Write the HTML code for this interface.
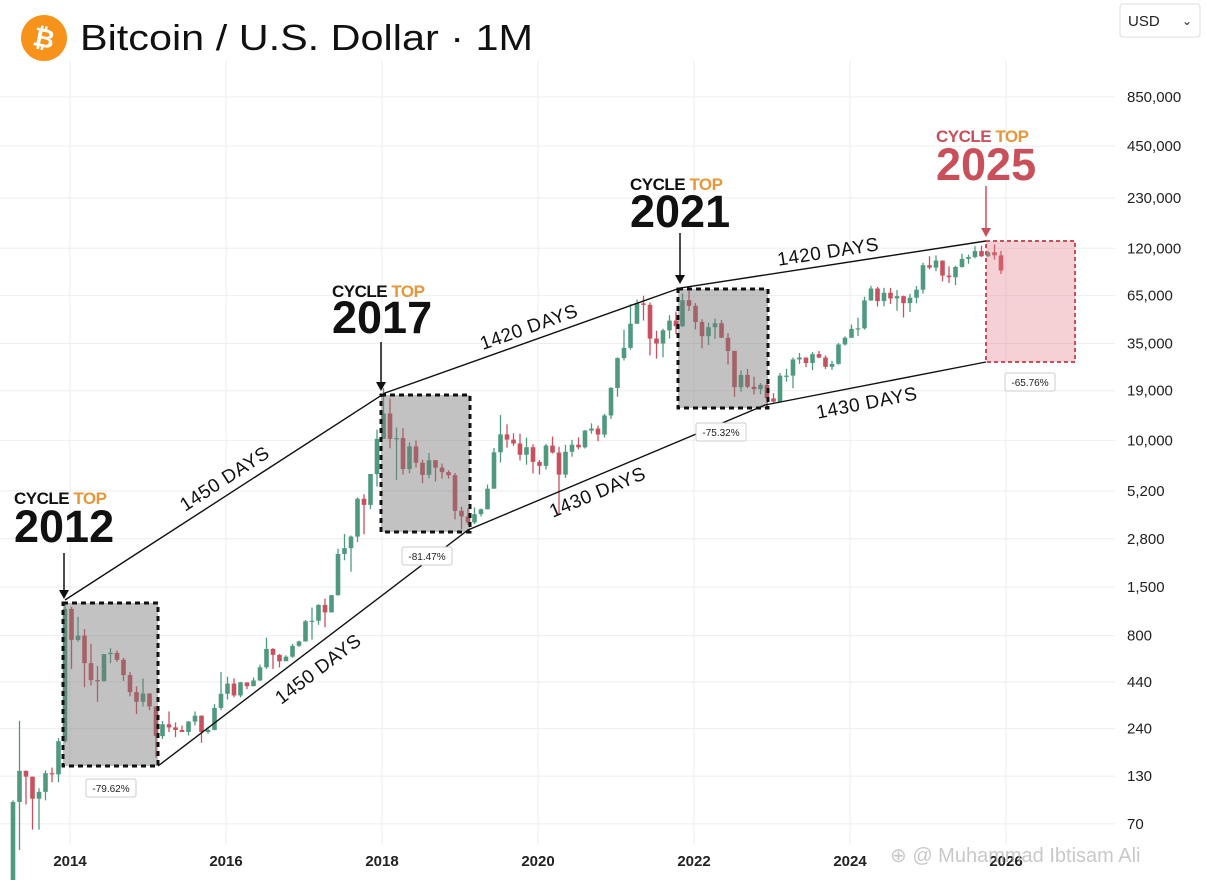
<!DOCTYPE html>
<html><head><meta charset="utf-8"><style>
html,body{margin:0;padding:0;background:#fff;width:1206px;height:880px;overflow:hidden;font-family:"Liberation Sans",sans-serif}
svg{display:block}
</style></head><body>
<svg id="chart" width="1206" height="880" viewBox="0 0 1206 880" xmlns="http://www.w3.org/2000/svg" font-family="Liberation Sans, sans-serif">
<g id="grid"></g>
<g id="candles"></g>
<g id="annot">
  <rect x="63" y="603" width="95" height="163" fill="rgba(120,120,120,0.45)" stroke="#111" stroke-width="3" stroke-dasharray="5,4"/>
  <rect x="381" y="395" width="89" height="137" fill="rgba(120,120,120,0.45)" stroke="#111" stroke-width="3" stroke-dasharray="5,4"/>
  <rect x="678" y="289" width="90" height="119" fill="rgba(120,120,120,0.45)" stroke="#111" stroke-width="3" stroke-dasharray="5,4"/>
  <rect x="986" y="241" width="89" height="121" fill="rgba(225,120,135,0.35)" stroke="#c9505a" stroke-width="2" stroke-dasharray="4,3"/>
  <polyline points="65,600 385,393 680,288 986,241" fill="none" stroke="#111" stroke-width="1.4"/>
  <polyline points="158,766 468,530 765,405 986,362" fill="none" stroke="#111" stroke-width="1.4"/>
  <g font-size="19" fill="#111" text-anchor="middle" letter-spacing="0.5">
    <text transform="translate(228,484) rotate(-33)">1450 DAYS</text>
    <text transform="translate(531,333) rotate(-19.6)">1420 DAYS</text>
    <text transform="translate(829,258) rotate(-8.8)">1420 DAYS</text>
    <text transform="translate(322,674) rotate(-37.3)">1450 DAYS</text>
    <text transform="translate(600,498) rotate(-22.8)">1430 DAYS</text>
    <text transform="translate(868,409) rotate(-11)">1430 DAYS</text>
  </g>
  <g font-size="10" fill="#222" text-anchor="middle">
    <g><rect x="86" y="779" width="50" height="18" rx="2" fill="#fff" stroke="#ccc"/><text x="111" y="792">-79.62%</text></g>
    <g><rect x="402" y="547" width="50" height="18" rx="2" fill="#fff" stroke="#ccc"/><text x="427" y="560">-81.47%</text></g>
    <g><rect x="696" y="423" width="50" height="18" rx="2" fill="#fff" stroke="#ccc"/><text x="721" y="436">-75.32%</text></g>
    <g><rect x="1005" y="373" width="50" height="18" rx="2" fill="#fff" stroke="#ccc"/><text x="1030" y="386">-65.76%</text></g>
  </g>
  <g font-weight="bold">
    <g>
      <text x="14" y="504" font-size="17" letter-spacing="-0.5" fill="#111">CYCLE <tspan fill="#e8963a">TOP</tspan></text>
      <text x="14" y="542" font-size="45" fill="#111">2012</text>
      <line x1="64" y1="553" x2="64" y2="592" stroke="#111" stroke-width="1.5"/><polygon points="59,590 69,590 64,599" fill="#111"/>
    </g>
    <g>
      <text x="332" y="297" font-size="17" letter-spacing="-0.5" fill="#111">CYCLE <tspan fill="#e8963a">TOP</tspan></text>
      <text x="332" y="333" font-size="45" fill="#111">2017</text>
      <line x1="381" y1="342" x2="381" y2="384" stroke="#111" stroke-width="1.5"/><polygon points="376,382 386,382 381,391" fill="#111"/>
    </g>
    <g>
      <text x="630" y="190" font-size="17" letter-spacing="-0.5" fill="#111">CYCLE <tspan fill="#e8963a">TOP</tspan></text>
      <text x="630" y="227" font-size="45" fill="#111">2021</text>
      <line x1="680" y1="233" x2="680" y2="277" stroke="#111" stroke-width="1.5"/><polygon points="675,275 685,275 680,284" fill="#111"/>
    </g>
    <g>
      <text x="936" y="142" font-size="17" letter-spacing="-0.5" fill="#c9505a">CYCLE <tspan fill="#e8963a">TOP</tspan></text>
      <text x="936" y="180" font-size="45" fill="#c9505a">2025</text>
      <line x1="986" y1="186" x2="986" y2="230" stroke="#c9505a" stroke-width="1.5"/><polygon points="981,228 991,228 986,237" fill="#c9505a"/>
    </g>
  </g>
</g>
<g id="yaxis" font-size="15" fill="#222"></g>
<g id="xaxis" font-size="15" fill="#222" font-weight="bold" text-anchor="middle"></g>
<g>
  <circle cx="44" cy="38" r="23" fill="#f7931a"/>
  <text x="44" y="47" font-size="26" font-weight="bold" fill="#fff" text-anchor="middle" transform="rotate(12,44,38)">₿</text>
  <text x="80" y="50" font-size="36" fill="#111" textLength="453" lengthAdjust="spacingAndGlyphs">Bitcoin / U.S. Dollar · 1M</text>
</g>
<g>
  <rect x="1120" y="4" width="80" height="33" rx="3" fill="#fff" stroke="#ddd"/>
  <text x="1128" y="26" font-size="15" fill="#222">USD</text>
  <text x="1182" y="25" font-size="12" fill="#222">⌄</text>
</g>
<text x="890" y="862" font-size="20" fill="#bbb" opacity="0.8">⊕ @ Muhammad Ibtisam Ali</text>
</svg>
<script>
const yTicks = [850000,450000,230000,120000,65000,35000,19000,10000,5200,2800,1500,800,440,240,130,70];
const xYears = [2014,2016,2018,2020,2022,2024,2026];
const startMonth = 2; // March 2013 (months since Jan 2013)
const firstOpen = 33;
const closes = [93,139,129,97,106,135,133,204,1130,757,
800,560,450,445,630,640,585,480,385,340,378,320,
218,254,244,236,230,263,284,230,236,314,377,430,
369,437,416,448,531,673,624,574,609,701,742,963,
970,1190,1080,1350,2300,2480,2880,4700,4340,6470,10200,14150,
10200,10300,6900,9240,7490,6400,7730,7030,6630,6370,4020,3740,
3460,3850,4100,5350,8570,10800,10100,9600,8300,9150,7570,7190,
9350,8540,6420,8630,9450,9140,11350,11650,10780,13800,19700,28990,
33100,45200,58800,57700,37300,35000,41500,47100,43800,61300,57000,46200,
38500,43200,45500,37700,31800,19900,23300,20000,19400,20500,17200,16500,
23100,23100,28500,29200,27200,30500,29200,25900,26900,34600,37700,42300,
42600,61100,71300,60600,67500,62700,64600,59000,63300,70200,96400,93400,
102400,84300,82500,94200,104600,107100,115700,108200,114000,109500,90000];
const highs = [95,266,140,129,111,140,145,212,1240,1160,
1020,870,720,540,630,680,660,600,500,415,460,380,
320,265,300,260,250,265,300,285,245,330,500,470,
460,440,425,465,550,780,680,630,620,720,750,980,
1150,1200,1290,1350,2460,2980,2920,4780,4980,6470,11500,19700,
17200,11800,11700,9750,9990,7780,8500,7760,7400,6800,6550,4240,
4140,4200,4140,5640,9070,13880,12300,10950,10900,10370,9510,7750,
9560,10500,9200,9440,10070,10380,11440,12470,12100,14100,19900,29300,
41900,58300,61800,64900,59500,41300,42400,50500,52900,67000,69000,59000,
47900,45800,48200,47400,40000,31900,24700,25200,22800,21000,21500,18400,
23900,25200,29200,31000,28400,31400,31800,30000,28000,35200,38400,44700,
48900,64000,73800,72700,71900,71900,70000,65100,66500,73600,99600,108300,
109300,102500,95000,95700,111900,110600,123200,124100,116000,126200,116000];
const lows = [33,50,90,65,65,95,120,120,200,520,
740,410,420,340,440,560,570,445,365,290,320,305,
165,210,230,215,230,220,250,200,225,235,305,350,
360,360,400,415,445,520,520,530,590,600,690,740,
760,920,890,1080,1340,2120,1830,2680,2970,4110,5500,10900,
9030,6000,6430,6530,7050,5750,6110,5880,6100,6100,3600,3160,
3350,3390,3740,4100,5350,7500,9100,9320,7710,7300,6520,6430,
6850,8440,3800,6150,8100,8900,9000,10900,9900,10370,13200,17570,
28100,32300,45100,47100,30000,28800,29300,37300,39600,43300,53300,42000,
32900,34300,37200,37600,26700,17600,18800,19600,18100,18200,15500,16300,
16500,21400,19600,26900,25800,24800,28900,25200,24900,26600,34100,40200,
38500,41900,60800,56500,56600,58400,53500,49000,52600,58900,66800,91300,
89200,78200,76600,74400,93400,98200,105300,107300,107300,103500,86000];

const NS='http://www.w3.org/2000/svg';
function yScale(v){return 97+(5.929-Math.log10(v))*178;}
function xScale(m){return m*6.5;} // m = months since Jan 2013
function mk(tag,attrs,parent){const e=document.createElementNS(NS,tag);for(const k in attrs)e.setAttribute(k,attrs[k]);parent.appendChild(e);return e;}

const grid=document.getElementById('grid'),yax=document.getElementById('yaxis'),xax=document.getElementById('xaxis'),cg=document.getElementById('candles');
yTicks.forEach(v=>{
  const y=yScale(v);
  const gl=mk('line',{x1:0,x2:1115,y1:y,y2:y,stroke:'#eeeeee','stroke-width':1},grid);
  
  
  const t=mk('text',{x:1127,y:y+5},yax);
  t.textContent=v.toLocaleString('en-US');
  
  
});
xYears.forEach(yr=>{
  const x=xScale((yr-2013)*12)-8;
  const gl=mk('line',{x1:x,x2:x,y1:60,y2:845,stroke:'#eeeeee','stroke-width':1},grid);
  
  
  const t=mk('text',{x:x,y:866},xax);
  t.textContent=yr;
  
  
});
let prev=firstOpen;
closes.forEach((c,i)=>{
  const o=prev;prev=c;
  const x=xScale(startMonth+i);
  const up=c>=o;const col=up?'#4f9a7e':'#c9505e';
  const g=mk('g',{},cg);
  
  
  mk('line',{x1:x,x2:x,y1:yScale(highs[i]),y2:yScale(lows[i]),stroke:col,'stroke-width':1.3},g);
  const top=yScale(Math.max(o,c)),bot=yScale(Math.min(o,c));
  mk('rect',{x:x-2.3,y:top,width:4.6,height:Math.max(1.2,bot-top),fill:col},g);
});
</script>
</body></html>
